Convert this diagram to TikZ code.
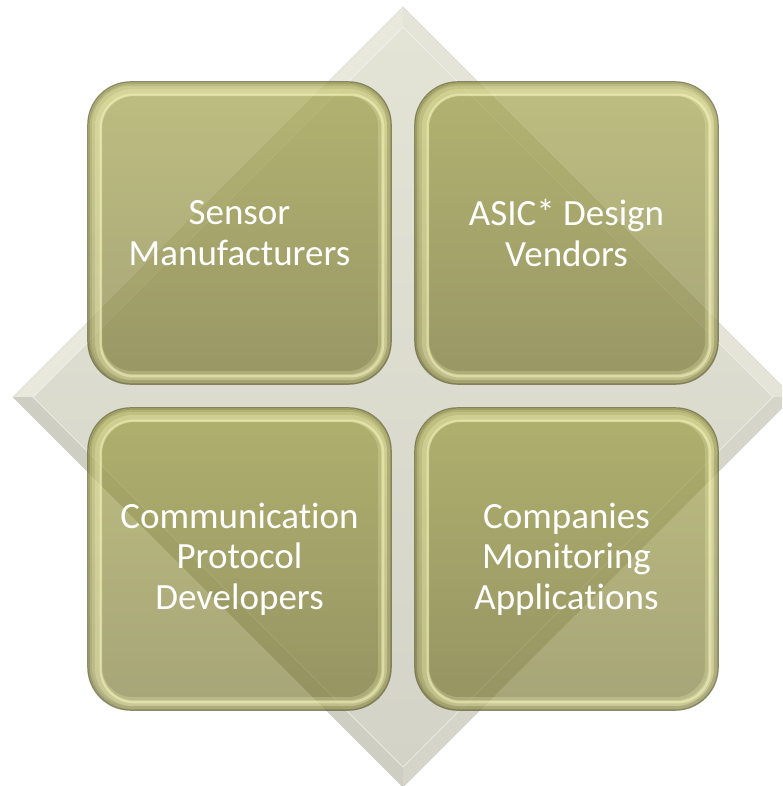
\documentclass[tikz,border=0pt]{standalone}
\usepackage{fontspec}
\setmainfont{Carlito}[Ligatures=NoCommon, RawFeature={-liga;-clig}]
\definecolor{faceTL}{RGB}{232,232,220}
\definecolor{faceTR}{RGB}{228,228,216}
\definecolor{faceBR}{RGB}{213,213,201}
\definecolor{faceBL}{RGB}{206,206,194}
\definecolor{dmTop}{RGB}{227,227,214}
\definecolor{dmBot}{RGB}{211,211,199}
\definecolor{boxTop}{RGB}{150,150,52}
\definecolor{boxBot}{RGB}{112,110,38}
\definecolor{rimHi}{RGB}{252,252,196}
\definecolor{edgeDk}{RGB}{105,103,62}
\tikzset{
  tile/.style={rounded corners=43pt, minimum width=303pt, minimum height=302pt,
    top color=boxTop, bottom color=boxBot, fill opacity=0.62, text opacity=1,
    text=white, align=center, inner sep=0pt,
    font=\fontsize{37}{40.5}\selectfont},
  tileedge/.style={draw=edgeDk, line width=1.2pt, rounded corners=43pt, draw opacity=0.75},
  rimwide/.style={draw=rimHi, line width=12pt, rounded corners=37pt, draw opacity=0.22},
  rimmid/.style={draw=rimHi, line width=6pt, rounded corners=36pt, draw opacity=0.25},
  rimthin/.style={draw=rimHi, line width=2.5pt, rounded corners=33pt, draw opacity=0.45},
  rimshade/.style={draw=edgeDk, line width=3pt, rounded corners=41pt, draw opacity=0.25},
}
\begin{document}
\begin{tikzpicture}[x=1pt,y=-1pt]
\useasboundingbox (0,0) rectangle (782,786);
\clip (0,0) rectangle (782,786);
\fill[white] (0,0) rectangle (782,786);
% diamond
\coordinate (dT) at (403,7);
\coordinate (dR) at (793,397);
\coordinate (dB) at (403,787);
\coordinate (dL) at (13,397);
\coordinate (iT) at (403,27);
\coordinate (iR) at (773,397);
\coordinate (iB) at (403,767);
\coordinate (iL) at (33,397);
\fill[faceTL] (dL) -- (dT) -- (iT) -- (iL) -- cycle;
\fill[faceTR] (dT) -- (dR) -- (iR) -- (iT) -- cycle;
\fill[faceBR] (dR) -- (dB) -- (iB) -- (iR) -- cycle;
\fill[faceBL] (dB) -- (dL) -- (iL) -- (iB) -- cycle;
\shade[top color=dmTop, bottom color=dmBot] (iT) -- (iR) -- (iB) -- (iL) -- cycle;
\draw[white, line width=0.8pt, opacity=0.45] (iT) -- (iR) -- (iB) -- (iL) -- cycle;
\draw[black!30, line width=0.4pt, opacity=0.35] (dT) -- (dR) -- (dB) -- (dL) -- cycle;
% tiles
\node[tile] (tl) at (239.5,233) {Sensor\\Manufacturers};
\node[tile] (tr) at (566.5,233) {ASIC* Design\\Vendors};
\node[tile] (bl) at (239.5,559) {Communication\\Protocol\\Developers};
\node[tile] (br) at (566.5,559) {Companies\\Monitoring\\Applications};
\foreach \n in {tl,tr,bl,br}{
  \draw[rimshade] ([xshift=2.5pt,yshift=-2.5pt]\n.north west) rectangle ([xshift=-2.5pt,yshift=2.5pt]\n.south east);
  \draw[rimwide] ([xshift=8pt,yshift=-8pt]\n.north west) rectangle ([xshift=-7pt,yshift=7pt]\n.south east);
  \draw[rimmid] ([xshift=10pt,yshift=-10pt]\n.north west) rectangle ([xshift=-7pt,yshift=7pt]\n.south east);
  \draw[rimthin] ([xshift=13pt,yshift=-13pt]\n.north west) rectangle ([xshift=-8pt,yshift=8pt]\n.south east);
  \draw[tileedge] (\n.north west) rectangle (\n.south east);
}
\end{tikzpicture}
\end{document}
